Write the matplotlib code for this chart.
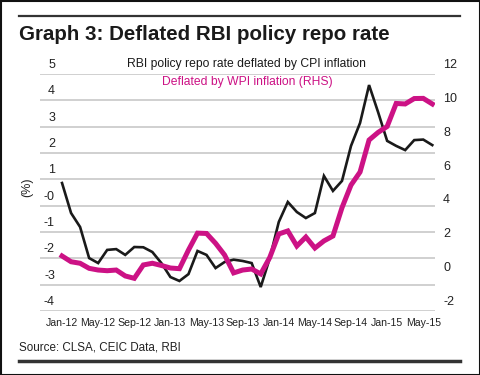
import numpy as np
import matplotlib.pyplot as plt
from matplotlib import transforms
from matplotlib.patches import Rectangle
from matplotlib.lines import Line2D

# monthly, Jan-12 .. Jun-15
cpi_real = [0.86, -0.28, -0.81, -1.99, -2.18, -1.68, -1.65, -1.87, -1.57, -1.58,
            -1.76, -2.18, -2.71, -2.86, -2.6, -1.72, -1.87, -2.37, -2.14, -2.05,
            -2.1, -2.18, -3.09, -2.0, -0.62, 0.14, -0.24, -0.47, -0.28, 1.13,
            0.56, 0.94, 2.27, 3.14, 4.58, 3.55, 2.46, 2.27, 2.11, 2.49, 2.51, 2.3]
wpi_real = [1.25, 0.91, 0.82, 0.52, 0.42, 0.38, 0.42, 0.07, -0.07, 0.72,
            0.82, 0.69, 0.54, 0.5, 1.6, 2.6, 2.58, 2.0, 1.31, 0.25,
            0.42, 0.48, 0.19, 1.16, 2.55, 2.73, 1.84, 2.37, 1.72, 2.14,
            2.43, 4.1, 5.44, 6.21, 8.1, 8.55, 8.9, 10.26, 10.23, 10.55, 10.56, 10.23]
xlabels = ['Jan-12', 'May-12', 'Sep-12', 'Jan-13', 'May-13', 'Sep-13',
           'Jan-14', 'May-14', 'Sep-14', 'Jan-15', 'May-15']
left_ticks = [5, 4, 3, 2, 1, 0, -1, -2, -3, -4]
left_labels = ['5', '4', '3', '2', '1', '-0', '-1', '-2', '-3', '-4']
right_ticks = [12, 10, 8, 6, 4, 2, 0, -2]

plt.rcParams['font.family'] = ['Liberation Sans', 'DejaVu Sans']

months = np.arange(len(cpi_real))
pink = '#cc1285'
grid_c = '#c8c8c8'
txt_c = '#222222'

fig = plt.figure(figsize=(4.8, 3.75), dpi=100)
W, H = 480, 375

ax = fig.add_axes([40 / W, 1 - 311 / H, 395 / W, 237 / H])
ax2 = ax.twinx()
for a in (ax, ax2):
    for s in a.spines.values():
        s.set_visible(False)

ax.set_xlim(-2.44, 41.3)
ax.set_ylim(-4, 5)
ax2.set_ylim(-2, 12)
ax.set_yticks(left_ticks)
ax.set_yticklabels([])
ax2.set_yticks(right_ticks)
ax2.set_yticklabels([])
ax.tick_params(axis='y', length=0)
ax2.tick_params(axis='y', length=0)
ax.grid(axis='y', color=grid_c, lw=1.2)
ax.set_axisbelow(True)

ax.set_xticks(months[::4])
ax.set_xticklabels(xlabels, fontsize=7.6, color=txt_c)
ax.tick_params(axis='x', length=0, pad=5)

ax.plot(months, cpi_real, color='#1a1a1a', lw=1.9, solid_joinstyle='miter')
ax2.plot(months, wpi_real, color=pink, lw=3.6, solid_joinstyle='miter')

# tick labels sit a little above their gridlines
up = transforms.offset_copy(ax.get_yaxis_transform(), fig=fig, x=0, y=9 * 72 / 100, units='points')
for v, t in zip(left_ticks, left_labels):
    ax.text(15 / 395, v, t, transform=up, ha='right', va='center',
            fontsize=9, color=txt_c)
up2 = transforms.offset_copy(ax2.get_yaxis_transform(), fig=fig, x=0, y=9 * 72 / 100, units='points')
for v in right_ticks:
    ax2.text(1 + 8 / 395, v, str(v), transform=up2, ha='left', va='center',
             fontsize=9, color=txt_c)

fig.text(27 / W, 1 - 187 / H, '(%)', rotation=90, ha='center', va='center',
         fontsize=9, color=txt_c)

# legend text
fig.text(246 / W, 1 - 64 / H, 'RBI policy repo rate deflated by CPI inflation',
         ha='center', va='center', fontsize=8.7, color='#1a1a1a')
fig.text(247 / W, 1 - 82 / H, 'Deflated by WPI inflation (RHS)',
         ha='center', va='center', fontsize=8.7, color=pink)

# title, source, rules, frame
fig.text(19 / W, 1 - 35 / H, 'Graph 3: Deflated RBI policy repo rate',
         ha='left', va='center', fontsize=14.8, fontweight='bold', color='#1a1a1a')
fig.text(19 / W, 1 - 347 / H, 'Source: CLSA, CEIC Data, RBI',
         ha='left', va='center', fontsize=8.4, color=txt_c)
fig.add_artist(Line2D([19 / W, 460 / W], [1 - 16 / H, 1 - 16 / H], color='#333333', lw=1.6))
fig.add_artist(Line2D([19 / W, 460 / W], [1 - 361 / H, 1 - 361 / H], color='#333333', lw=2.5))
fig.add_artist(Rectangle((0.5 / W, 0.5 / H), 1 - 1 / W, 1 - 1 / H, transform=fig.transFigure,
                         fill=False, edgecolor='#111111', lw=1.5))

fig.savefig('out.png', dpi=100)
